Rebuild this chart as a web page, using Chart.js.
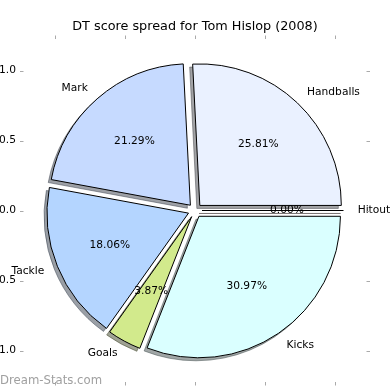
<!DOCTYPE html>
<html><head><meta charset="utf-8">
<script src="https://cdn.jsdelivr.net/npm/chart.js@4.4.1/dist/chart.umd.min.js"></script>
<style>html,body{margin:0;padding:0;background:#fff;} canvas{display:block}</style>
</head><body>
<canvas id="c" width="390" height="390"></canvas>
<script>
// ---- data ----
const titleText = 'DT score spread for Tom Hislop (2008)';
const categories = ['Handballs', 'Mark', 'Tackle', 'Goals', 'Kicks', 'Hitout'];
const dtPoints = [40, 33, 28, 6, 48, 0];
const sliceColors = ['#EAF1FF', '#C6DAFF', '#B4D5FF', '#D2EA8C', '#DAFFFF', '#FFE4E1'];
const axisTicks = [-1, -0.5, 0, 0.5, 1];
const axisTickLabels = ['\u22121.0', '\u22120.5', '0.0', '0.5', '1.0'];
const explode = 0.05;
const watermark = 'Dream-Stats.com';

// ---- style ----
const FONT = 'DejaVu Sans';
const LABEL_SIZE = 10.67;
const SHADOW = 0.0213;

// matplotlib draws counter-clockwise from east; Chart.js clockwise -> reverse order
const order = categories.map((_, i) => i).reverse();

function shadowColor(hex) {
  const r = parseInt(hex.slice(1, 3), 16), g = parseInt(hex.slice(3, 5), 16), b = parseInt(hex.slice(5, 7), 16);
  return `rgba(${Math.round(r * 0.3)},${Math.round(g * 0.3)},${Math.round(b * 0.3)},0.5)`;
}

const pieDeco = {
  id: 'pieDeco',
  afterDatasetsUpdate(chart) {
    const xs = chart.scales.x;
    const ex = xs.getPixelForValue(explode) - xs.getPixelForValue(0);
    chart.getDatasetMeta(0).data.forEach(arc => {
      const mid = (arc.startAngle + arc.endAngle) / 2;
      arc.x += Math.cos(mid) * ex;
      arc.y += Math.sin(mid) * ex;
    });
  },
  beforeDatasetsDraw(chart) {
    const ctx = chart.ctx, xs = chart.scales.x, ys = chart.scales.y;
    const sx = xs.getPixelForValue(-SHADOW) - xs.getPixelForValue(0);
    const sy = ys.getPixelForValue(-SHADOW) - ys.getPixelForValue(0);
    const ds = chart.data.datasets[0];
    chart.getDatasetMeta(0).data.forEach((arc, i) => {
      const col = shadowColor(ds.backgroundColor[i]);
      ctx.save();
      ctx.beginPath();
      ctx.moveTo(arc.x + sx, arc.y + sy);
      ctx.arc(arc.x + sx, arc.y + sy, arc.outerRadius, arc.startAngle, arc.endAngle);
      ctx.closePath();
      ctx.fillStyle = col; ctx.strokeStyle = col; ctx.lineWidth = 1; ctx.lineJoin = 'miter';
      ctx.fill(); ctx.stroke();
      ctx.restore();
    });
  },
  afterDatasetsDraw(chart) {
    const ctx = chart.ctx;
    const ds = chart.data.datasets[0];
    const total = ds.data.reduce((a, b) => a + b, 0);
    const x0 = chart.scales.x.getPixelForValue(0);
    const arcs = chart.getDatasetMeta(0).data;
    ctx.save();
    // zero-size wedges are drawn as a single edge line, like matplotlib
    arcs.forEach(arc => {
      if (arc.endAngle - arc.startAngle === 0) {
        ctx.beginPath();
        ctx.moveTo(arc.x, arc.y);
        ctx.lineTo(arc.x + Math.cos(arc.startAngle) * arc.outerRadius, arc.y + Math.sin(arc.startAngle) * arc.outerRadius);
        ctx.strokeStyle = '#000'; ctx.lineWidth = 1; ctx.stroke();
      }
    });
    ctx.font = `${LABEL_SIZE}px "${FONT}"`;
    ctx.fillStyle = '#000';
    ctx.textBaseline = 'middle';
    arcs.forEach((arc, i) => {
      const mid = (arc.startAngle + arc.endAngle) / 2;
      const R = arc.outerRadius;
      const lx = arc.x + Math.cos(mid) * 1.1 * R, ly = arc.y + Math.sin(mid) * 1.1 * R;
      ctx.textAlign = lx > x0 ? 'left' : 'right';
      ctx.fillText(chart.data.labels[i], lx, ly);
      const px = arc.x + Math.cos(mid) * 0.6 * R, py = arc.y + Math.sin(mid) * 0.6 * R;
      ctx.textAlign = 'center';
      ctx.fillText((ds.data[i] / total * 100).toFixed(2) + '%', px, py);
    });
    ctx.restore();
  },
  afterDraw(chart) {
    const ctx = chart.ctx, xs = chart.scales.x, ys = chart.scales.y, a = chart.chartArea;
    const L = 3.5;
    ctx.save();
    ctx.strokeStyle = '#aaa'; ctx.lineWidth = 1;
    const line = (x1, y1, x2, y2) => { ctx.beginPath(); ctx.moveTo(x1, y1); ctx.lineTo(x2, y2); ctx.stroke(); };
    axisTicks.forEach(v => {
      const px = Math.round(xs.getPixelForValue(v)) + 0.5;
      const py = Math.round(ys.getPixelForValue(v)) + 0.5;
      line(px, a.top, px, a.top + L);
      line(px, a.bottom, px, a.bottom - L);
      line(a.left, py, a.left + L, py);
      line(a.right, py, a.right - L, py);
    });
    ctx.font = `${LABEL_SIZE}px "${FONT}"`;
    ctx.fillStyle = '#000';
    axisTicks.forEach((v, i) => {
      ctx.textAlign = 'right'; ctx.textBaseline = 'middle';
      ctx.fillText(axisTickLabels[i], a.left - 4, ys.getPixelForValue(v));
      ctx.textAlign = 'center'; ctx.textBaseline = 'top';
      ctx.fillText(axisTickLabels[i], xs.getPixelForValue(v), a.bottom + 4);
    });
    ctx.font = `11.7px "${FONT}"`;
    ctx.fillStyle = '#a0a0a0';
    ctx.textAlign = 'left'; ctx.textBaseline = 'alphabetic';
    ctx.fillText(watermark, 0, 384);
    ctx.restore();
  }
};

Chart.defaults.font.family = FONT;

new Chart(document.getElementById('c'), {
  type: 'pie',
  data: {
    labels: order.map(i => categories[i]),
    datasets: [{
      data: order.map(i => dtPoints[i]),
      backgroundColor: order.map(i => sliceColors[i]),
      borderColor: '#000',
      borderWidth: 1,
      borderJoinStyle: 'miter',
      hoverOffset: 0
    }]
  },
  options: {
    responsive: false,
    animation: false,
    rotation: 90,
    radius: 141.5,
    layout: { padding: { left: 20, right: 20, top: 0, bottom: 4.5 } },
    scales: {
      x: { type: 'linear', min: -1.25, max: 1.25, display: false },
      y: { type: 'linear', min: -1.25, max: 1.25, display: false }
    },
    plugins: {
      legend: { display: false },
      tooltip: { enabled: false },
      title: {
        display: true,
        text: titleText,
        color: '#000',
        font: { family: FONT, size: 12.8, weight: 'normal' },
        padding: { top: 18.8, bottom: 1.34 }
      }
    }
  },
  plugins: [pieDeco]
});
</script>
</body></html>
